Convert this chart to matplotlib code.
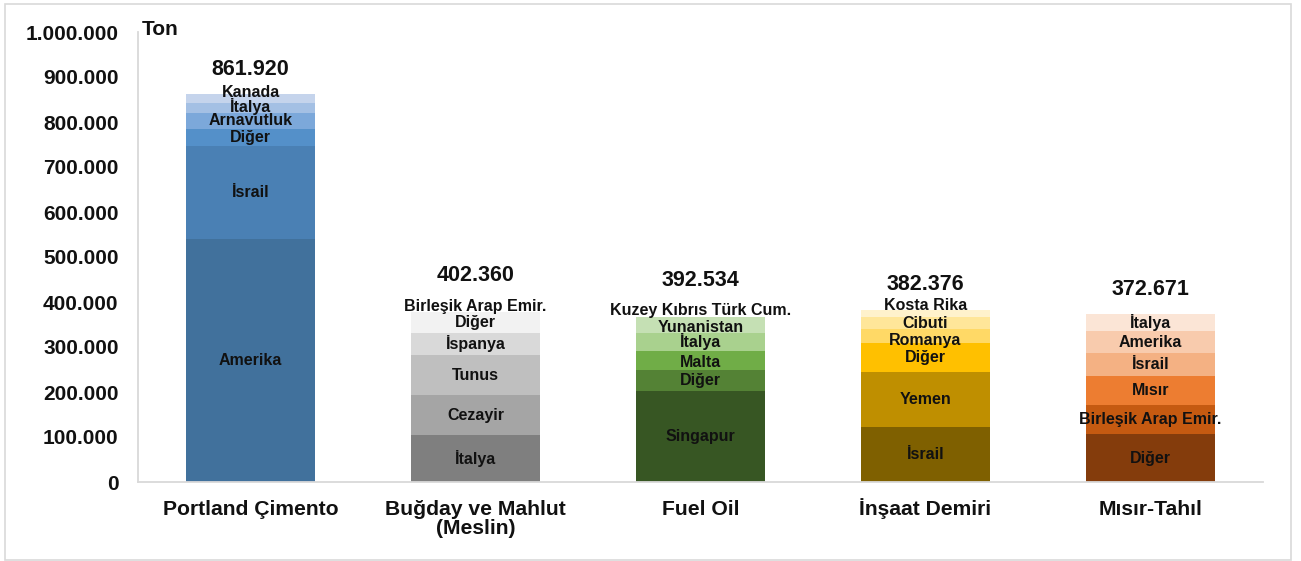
import matplotlib
matplotlib.use("Agg")
import matplotlib.pyplot as plt
from matplotlib.patches import Rectangle

plt.rcParams['font.family'] = ['Liberation Sans', 'DejaVu Sans']

categories = ["Portland Çimento", "Buğday ve Mahlut\n(Meslin)", "Fuel Oil", "İnşaat Demiri", "Mısır-Tahıl"]
totals = [861920, 402360, 392534, 382376, 372671]
total_labels = ["861.920", "402.360", "392.534", "382.376", "372.671"]

# segments listed bottom -> top
seg_names_1 = ["Amerika", "İsrail", "Diğer", "Arnavutluk", "İtalya", "Kanada"]
seg_vals_1 = [540000, 207000, 38000, 36000, 20500, 20420]
seg_cols_1 = ["#41719C", "#4A80B4", "#5490C9", "#7CA8DA", "#A4C0E4", "#C5D4EC"]

seg_names_2 = ["İtalya", "Cezayir", "Tunus", "İspanya", "Diğer", "Birleşik Arap Emir."]
seg_vals_2 = [104000, 89000, 89000, 49500, 46500, 24360]
seg_cols_2 = ["#7F7F7F", "#A5A5A5", "#BFBFBF", "#D9D9D9", "#F2F2F2", "#FFFFFF"]

seg_names_3 = ["Singapur", "Diğer", "Malta", "İtalya", "Yunanistan", "Kuzey Kıbrıs Türk Cum."]
seg_vals_3 = [202000, 46500, 43000, 40000, 36000, 25034]
seg_cols_3 = ["#375623", "#548235", "#70AD47", "#A9D18E", "#C5E0B4", "#FFFFFF"]

seg_names_4 = ["İsrail", "Yemen", "Diğer", "Romanya", "Cibuti", "Kosta Rika"]
seg_vals_4 = [123000, 122000, 64500, 30500, 26000, 16376]
seg_cols_4 = ["#7F6000", "#BF8F00", "#FFC000", "#FFD966", "#FFE699", "#FFF2CC"]

seg_names_5 = ["Diğer", "Birleşik Arap Emir.", "Mısır", "İsrail", "Amerika", "İtalya"]
seg_vals_5 = [106500, 64500, 64500, 51500, 48000, 37671]
seg_cols_5 = ["#843C0C", "#C55A11", "#ED7D31", "#F4B183", "#F8CBAD", "#FBE5D6"]

yticks = [0, 100000, 200000, 300000, 400000, 500000, 600000, 700000, 800000, 900000, 1000000]
ytick_labels = ["0", "100.000", "200.000", "300.000", "400.000", "500.000", "600.000",
                "700.000", "800.000", "900.000", "1.000.000"]

all_names = [seg_names_1, seg_names_2, seg_names_3, seg_names_4, seg_names_5]
all_vals = [seg_vals_1, seg_vals_2, seg_vals_3, seg_vals_4, seg_vals_5]
all_cols = [seg_cols_1, seg_cols_2, seg_cols_3, seg_cols_4, seg_cols_5]

# label nudges (points, vertical) for crowded small segments: (bar index, segment index)
label_nudge = {(0, 5): 4.5, (0, 4): 1.0, (2, 4): -2.0, (2, 2): -1.5, (3, 5): 5.5, (3, 3): -3.0}

fig = plt.figure(figsize=(13.01, 5.61), dpi=100)
ax = fig.add_axes([138/1301, 1 - 482/561, 1125/1301, 450/561])

width = 0.573
for i in range(len(categories)):
    bottom = 0
    for j, (name, val, col) in enumerate(zip(all_names[i], all_vals[i], all_cols[i])):
        ax.bar(i, val, width=width, bottom=bottom, color=col, edgecolor='none', zorder=2)
        ax.annotate(name, xy=(i, bottom + val / 2), xytext=(0, label_nudge.get((i, j), 0)),
                    textcoords='offset points', ha='center', va='center',
                    fontsize=11.5, fontweight='bold', color='#111111', zorder=3)
        bottom += val
    ax.annotate(total_labels[i], xy=(i, totals[i]), xytext=(0, 18), textcoords='offset points',
                ha='center', va='center', fontsize=15.5, fontweight='bold', color='#111111')

# category labels: first-line baselines aligned
for i, cat in enumerate(categories):
    extra_lines = cat.count("\n")
    ax.annotate(cat, xy=(i, 0), xytext=(0, -23.5 - 13.7 * extra_lines), textcoords='offset points',
                ha='center', va='baseline', multialignment='center', linespacing=0.95,
                fontsize=15.2, fontweight='bold', color='#111111', annotation_clip=False)

ax.set_xlim(-0.5, len(categories) - 0.5)
ax.set_ylim(0, 1000000)
ax.set_yticks(yticks)
ax.set_yticklabels(ytick_labels, fontsize=15, fontweight='bold', color='#111111')
ax.set_xticks(range(len(categories)))
ax.set_xticklabels([])
ax.tick_params(axis='both', length=0)
ax.tick_params(axis='y', pad=14)
for s in ['top', 'right']:
    ax.spines[s].set_visible(False)
for s in ['left', 'bottom']:
    ax.spines[s].set_color('#D9D9D9')
    ax.spines[s].set_linewidth(1.3)

ax.text(0.003, 1.005, "Ton", transform=ax.transAxes, ha='left', va='center',
        fontsize=15, fontweight='bold', color='#111111')

fig.patches.append(Rectangle((5/1301, 1/561), 1286/1301, 556/561, transform=fig.transFigure,
                             fill=False, edgecolor='#D9D9D9', linewidth=1.2))

fig.savefig("out.png", dpi=100)
